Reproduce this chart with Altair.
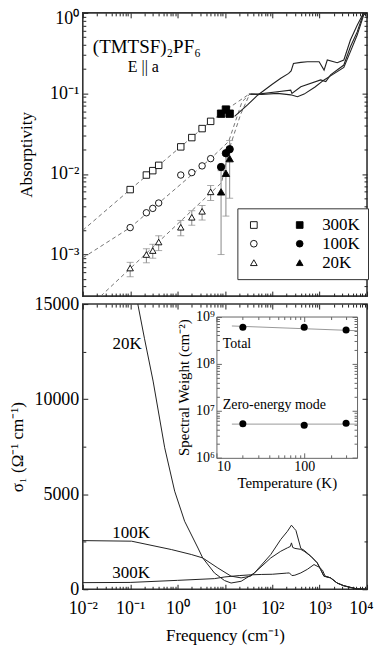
import altair as alt
import pandas as pd

FONT = "Liberation Serif"
INK = "#222222"

# ---------------- top panel: absorptivity ----------------
freq_open = [0.1, 0.22, 0.3, 0.4, 1.17, 2.0, 3.3, 5.0]
abs300_open = [0.0064, 0.0097, 0.011, 0.0128, 0.0217, 0.0283, 0.0366, 0.045]
abs100_open = [0.00216, 0.0033, 0.00374, 0.00436, 0.0097, 0.0104, 0.0126, 0.0155]
abs20_open = [0.00068, 0.0010, 0.00112, 0.00143, 0.00218, 0.0029, 0.00344, 0.0060]
abs20_open_lo = [0.00053, 0.00079, 0.0009, 0.00112, 0.00171, 0.00231, 0.00268, 0.0047]
abs20_open_hi = [0.0008, 0.00118, 0.00134, 0.00171, 0.00265, 0.0035, 0.00406, 0.0072]

freq_filled = [8.3, 10.5, 12.6]
abs300_filled = [0.056, 0.063, 0.056]
abs100_filled = [0.0122, 0.0181, 0.0203]
abs20_filled = [0.006, 0.0102, 0.0155]
abs20_filled_lo = [0.001, 0.003, 0.005]
abs20_filled_hi = [0.011, 0.017, 0.026]

dash300_f = [0.01, 0.1, 5.0, 14.0, 30.0]
dash300_a = [0.0020, 0.0064, 0.045, 0.07, 0.095]
dash100_f = [0.01, 0.1, 5.0, 12.0, 23.0, 32.0]
dash100_a = [0.00091, 0.00216, 0.0155, 0.0253, 0.079, 0.095]
dash20_f = [0.024, 8.5, 12.5, 21.5, 32.0]
dash20_a = [0.000305, 0.0078, 0.021, 0.055, 0.093]

solidA_f = [16, 30, 49, 100, 151, 222, 250, 280, 400, 550, 975, 1240, 1450, 2350, 3240, 4460, 6200, 8500]
solidA_a = [0.052, 0.072, 0.095, 0.13, 0.154, 0.177, 0.19, 0.235, 0.243, 0.247, 0.247, 0.195, 0.26, 0.24, 0.26, 0.46, 0.70, 1.0]
solidB_f = [32, 50, 129, 245, 260, 400, 1050, 1350, 1700, 3240, 4460, 6200, 8500]
solidB_a = [0.098, 0.098, 0.105, 0.11, 0.1, 0.121, 0.147, 0.14, 0.17, 0.225, 0.38, 0.58, 1.0]
solidC_f = [35, 60, 129, 245, 340, 470, 800, 1240, 1700, 3240, 4460, 6200, 8500, 10000]
solidC_a = [0.098, 0.097, 0.1, 0.096, 0.091, 0.098, 0.12, 0.147, 0.165, 0.21, 0.33, 0.53, 0.94, 1.0]

legend_keys = ["o300K", "f300K", "o100K", "f100K", "o20K", "f20K"]
legend_shapes = ["square", "square", "circle", "circle", "triangle-up", "triangle-up"]
legend_fills = ["white", "black", "white", "black", "white", "black"]
legend_strokes = ["black"] * 6

# ---------------- bottom panel: conductivity ----------------
sig20_f = [0.145, 0.2, 0.305, 0.536, 0.87, 1.41, 2.7, 3.4, 6.0, 9.8, 13.5, 22, 42, 93, 151, 209, 254, 290, 316,
           400, 470, 650, 890, 1050, 1230, 1700, 2340, 3200, 4460, 6200, 10000]
sig20_s = [15000, 13200, 10950, 7440, 5160, 3580, 2170, 1650, 860, 460, 330, 420, 860, 1830, 2620, 3050, 3370, 3200, 3090,
           2150, 2050, 1740, 1390, 1040, 690, 600, 330, 190, 100, 20, 0]
sig100_f = [0.01, 0.107, 0.74, 1.95, 3.4, 7.1, 13.5, 22, 35, 42, 93, 151, 209, 240, 254, 270, 300, 400, 470, 650,
            890, 1050, 1230, 1700, 2340, 3200, 4460, 6200, 10000]
sig100_s = [2560, 2530, 2090, 1830, 1650, 1120, 690, 600, 690, 860, 1650, 2000, 2180, 2250, 2440, 2200, 2150, 2100, 2000, 1740,
            1390, 1040, 690, 600, 330, 190, 100, 20, 0]
sig300_f = [0.01, 0.1, 1, 6, 10, 20, 35, 60, 100, 200, 230, 260, 300, 400, 550, 760, 1000, 1150, 1300, 1700, 2340,
            3200, 4460, 6200, 10000]
sig300_s = [350, 360, 470, 560, 650, 720, 760, 780, 790, 850, 860, 720, 740, 860, 1050, 1300, 1150, 1000, 700, 600, 330,
            190, 100, 20, 0]

curve_label_f = [0.086, 0.105, 0.105]
curve_label_s = [12890, 2945, 842]
curve_label_t = ["20K", "100K", "300K"]

# ---------------- inset: spectral weight ----------------
temps = [20, 100, 300]
sw_total = [5.9e8, 5.9e8, 5.2e8]
sw_zero = [5.3e6, 4.9e6, 5.4e6]
fit_T = [15, 400]
fit_total = [6.3e8, 5.0e8]
fit_zero = [5.2e6, 5.2e6]

# ---------------- frames / sizes ----------------
W = 285
HT = 284
HB = 286
INSET = (134, 275, 12.5, 154.2)  # x0, x1, y0, y1 inside bottom view

dec_maj = [0.01, 0.1, 1, 10, 100, 1000, 10000]
dec_min = [m * d for d in [0.01, 0.1, 1, 10, 100, 1000] for m in range(2, 10)]
abs_maj = [1e-3, 1e-2, 1e-1, 1]
abs_min = [m * d for d in [1e-4, 1e-3, 1e-2, 1e-1] for m in range(2, 10) if m * d >= 3.05e-4]
sig_maj = [0, 5000, 10000, 15000]
sig_min = [2500, 7500, 12500]
T_maj = [10, 100]
T_min = [20, 30, 40, 50, 60, 70, 80, 90, 200, 300]
sw_maj = [1e6, 1e7, 1e8, 1e9]
sw_min = [m * d for d in [1e6, 1e7, 1e8] for m in range(2, 10)]

SUP = "['10⁻⁴','10⁻³','10⁻²','10⁻¹','10⁰','10¹','10²','10³','10⁴'][round(log(datum.value)/LN10)+4]"
SUP_IN = "['10⁶','10⁷','10⁸','10⁹'][round(log(datum.value)/LN10)-6]"

XS = alt.Scale(type="log", domain=[0.01, 10000], nice=False)
YT = alt.Scale(type="log", domain=[3.05e-4, 1], nice=False)
YB = alt.Scale(type="linear", domain=[0, 15000], nice=False, zero=False)
XI = alt.Scale(type="log", domain=[10, 400], nice=False, range=[INSET[0], INSET[1]])
YI = alt.Scale(type="log", domain=[1e6, 1e9], nice=False, range=[INSET[3], INSET[2]])

# ---------------- data frames ----------------
rows = []
for k, vals in [("o300K", abs300_open), ("o100K", abs100_open), ("o20K", abs20_open)]:
    rows += [{"f": f, "a": a, "key": k} for f, a in zip(freq_open, vals)]
open_df = pd.DataFrame(rows)
rows = []
for k, vals in [("f300K", abs300_filled), ("f100K", abs100_filled), ("f20K", abs20_filled)]:
    rows += [{"f": f, "a": a, "key": k} for f, a in zip(freq_filled, vals)]
filled_df = pd.DataFrame(rows)
err_df = pd.DataFrame({
    "f": freq_open + freq_filled,
    "lo": abs20_open_lo + abs20_filled_lo,
    "hi": abs20_open_hi + abs20_filled_hi,
})
cap_df = pd.DataFrame({"f": err_df["f"].tolist() * 2, "a": err_df["lo"].tolist() + err_df["hi"].tolist()})
rows = []
for s, fs, as_ in [("300K", dash300_f, dash300_a), ("100K", dash100_f, dash100_a), ("20K", dash20_f, dash20_a)]:
    rows += [{"f": f, "a": a, "s": s} for f, a in zip(fs, as_)]
dash_df = pd.DataFrame(rows)
rows = []
for s, fs, as_ in [("A", solidA_f, solidA_a), ("B", solidB_f, solidB_a), ("C", solidC_f, solidC_a)]:
    rows += [{"f": f, "a": a, "s": s} for f, a in zip(fs, as_)]
solid_df = pd.DataFrame(rows)
title_df = pd.DataFrame({"f": [0.0163], "a": [0.38], "t": ["(TMTSF)₂PF₆"]})
eparr_df = pd.DataFrame({"f": [0.089], "a": [0.215], "t": ["E || a"]})

rows = []
for s, fs, ss in [("20K", sig20_f, sig20_s), ("100K", sig100_f, sig100_s), ("300K", sig300_f, sig300_s)]:
    rows += [{"f": f, "sig": v, "s": s} for f, v in zip(fs, ss)]
sig_df = pd.DataFrame(rows)
lab_df = pd.DataFrame({"f": curve_label_f, "sig": curve_label_s, "t": curve_label_t})

ins_pts = pd.DataFrame({"T": temps * 2, "w": sw_total + sw_zero, "s": ["total"] * 3 + ["zero"] * 3})
ins_fit = pd.DataFrame({"T": fit_T * 2, "w": fit_total + fit_zero, "s": ["total"] * 2 + ["zero"] * 2})
ins_txt = pd.DataFrame({"T": [11.8, 11.8], "w": [2.55e8, 1.3e7], "t": ["Total", "Zero-energy mode"]})


def tick_axis(orient, offset, values, size, domain=False, color=INK):
    return alt.Axis(orient=orient, offset=offset, values=values, tickSize=size, ticks=True,
                    labels=False, domain=domain, domainColor=color, domainWidth=1,
                    grid=False, title=None, tickColor=color, tickWidth=1, minExtent=0, maxExtent=0)


def tick_layers(df, xf, yf, xs, ys, xmaj, xmin, ymaj, ymin, edges, H, domain=False, color=INK):
    x0, x1, y0, y1 = edges
    out = []
    sides = [("top", -y1, "right", x0 - W), ("bottom", y0 - H, "left", -x1)]
    for xo, xoff, yo, yoff in sides:
        for xv, yv, size, dom in [(xmaj, ymaj, 5, domain), (xmin, ymin, 3, False)]:
            out.append(
                alt.Chart(df).mark_point(opacity=0).encode(
                    x=alt.X(f"{xf}:Q", scale=xs, axis=tick_axis(xo, xoff, xv, size, dom, color)),
                    y=alt.Y(f"{yf}:Q", scale=ys, axis=tick_axis(yo, yoff, yv, size, dom, color)),
                )
            )
    return out


def X(field, scale, axis=None):
    return alt.X(f"{field}:Q", scale=scale, axis=axis)


def Y(field, scale, axis=None):
    return alt.Y(f"{field}:Q", scale=scale, axis=axis)


# ---------------- top panel ----------------
shape_scale = alt.Scale(domain=legend_keys, range=legend_shapes)
fill_scale = alt.Scale(domain=legend_keys, range=legend_fills)
stroke_scale = alt.Scale(domain=legend_keys, range=legend_strokes)
legend = alt.Legend(orient="none", legendX=155, legendY=196, columns=2, direction="horizontal",
                    title=None,
                    labelExpr="indexof(datum.label,'f')==0 ? substring(datum.label,1) : ''",
                    strokeColor="#333333", padding=8, symbolStrokeWidth=0.9,
                    symbolSize=45, labelFont=FONT, labelFontSize=17, labelColor="black", rowPadding=1,
                    columnPadding=15, labelOffset=14, fillColor="white")


def point_enc(ch):
    return ch.encode(
        x=X("f", XS), y=Y("a", YT),
        shape=alt.Shape("key:N", scale=shape_scale, legend=legend),
        fill=alt.Fill("key:N", scale=fill_scale, legend=legend),
        stroke=alt.Stroke("key:N", scale=stroke_scale, legend=legend),
    )


dashed = alt.Chart(dash_df).mark_line(strokeDash=[4, 3], color="#666666", strokeWidth=0.9).encode(
    x=X("f", XS), y=Y("a", YT), detail="s:N")
solid = alt.Chart(solid_df).mark_line(color=INK, strokeWidth=1.1, clip=True).encode(
    x=X("f", XS), y=Y("a", YT), detail="s:N")
errbar = alt.Chart(err_df).mark_rule(color="#888888", strokeWidth=1).encode(
    x=X("f", XS), y=Y("lo", YT), y2="hi:Q")
caps = alt.Chart(cap_df).mark_tick(orient="horizontal", size=7, thickness=1, color="#888888").encode(
    x=X("f", XS), y=Y("a", YT))
opens = point_enc(alt.Chart(open_df).mark_point(filled=True, size=42, strokeWidth=0.9, opacity=1))
filleds = point_enc(alt.Chart(filled_df).mark_point(filled=True, size=55, strokeWidth=0.9, opacity=1))
title_txt = alt.Chart(title_df).mark_text(font=FONT, fontSize=19, align="left", baseline="middle", color="black").encode(
    x=X("f", XS), y=Y("a", YT), text="t:N")
epar_txt = alt.Chart(eparr_df).mark_text(font=FONT, fontSize=16, align="left", baseline="middle", color="black").encode(
    x=X("f", XS), y=Y("a", YT), text="t:N")
top_axis = alt.Chart(solid_df).mark_point(opacity=0).encode(
    x=X("f", XS),
    y=Y("a", YT, alt.Axis(orient="left", values=abs_maj, labelExpr=SUP, ticks=False, tickSize=0, domain=False,
                          grid=False, labelFont=FONT, labelFontSize=18, labelColor="black", labelPadding=4,
                          labelFlush=True, labelFlushOffset=3,
                          title="Absorptivity", titleFont=FONT, titleFontSize=17, titleFontWeight="normal",
                          titleColor="black", titlePadding=14)))

top = alt.layer(
    dashed, solid, errbar, caps, opens, filleds, title_txt, epar_txt, top_axis,
    *tick_layers(solid_df, "f", "a", XS, YT, dec_maj, dec_min, abs_maj, abs_min, (0, W, 0, HT), HT),
).resolve_scale(x="independent", y="independent").properties(width=W, height=HT)

# ---------------- bottom panel ----------------
last_label = "datum.value >= 10000"
curves = alt.Chart(sig_df).mark_line(color=INK, strokeWidth=1).encode(
    x=X("f", XS, alt.Axis(orient="bottom", values=dec_maj, labelExpr=SUP, ticks=False, tickSize=0, domain=False,
                          grid=False, labelFlush=False,
                          labelAlign={"condition": {"test": last_label, "value": "right"}, "value": "center"},
                          labelOffset={"condition": {"test": last_label, "value": 6}, "value": 0},
                          labelFont=FONT, labelFontSize=18, labelColor="black",
                          labelPadding=10, title="Frequency (cm⁻¹)", titleFont=FONT, titleFontSize=17,
                          titleFontWeight="normal", titleColor="black", titlePadding=10)),
    y=Y("sig", YB, alt.Axis(orient="left", values=sig_maj, ticks=False, tickSize=0, domain=False, grid=False,
                            format="d", labelFont=FONT, labelFontSize=18, labelColor="black", labelPadding=4,
                            title="σ₁ (Ω⁻¹ cm⁻¹)", titleFont=FONT, titleFontSize=17, titleFontWeight="normal",
                            titleColor="black", titlePadding=7)),
    detail="s:N")
curve_labels = alt.Chart(lab_df).mark_text(font=FONT, fontSize=17, align="center", baseline="middle",
                                            color="black").encode(x=X("f", XS), y=Y("sig", YB), text="t:N")

ins_axis = alt.Chart(ins_pts).mark_point(opacity=0).encode(
    x=X("T", XI, alt.Axis(orient="bottom", offset=INSET[3] - HB, values=T_maj, format="d", ticks=False, tickSize=0,
                          domain=False, grid=False, labelFlush=True, labelFont=FONT, labelFontSize=14,
                          labelColor="black", labelPadding=2, title="Temperature (K)", titleFont=FONT,
                          titleFontSize=15, titleFontWeight="normal", titleColor="black", titlePadding=2)),
    y=Y("w", YI, alt.Axis(orient="left", offset=-INSET[0], values=sw_maj, labelExpr=SUP_IN, ticks=False,
                          tickSize=0, domain=False, grid=False, labelFont=FONT, labelFontSize=14,
                          labelColor="black", labelPadding=2, title="Spectral Weight (cm⁻²)", titleFont=FONT,
                          titleFontSize=15, titleFontWeight="normal", titleColor="black", titlePadding=4)))
ins_lines = alt.Chart(ins_fit).mark_line(color="#999999", strokeWidth=1).encode(
    x=X("T", XI), y=Y("w", YI), detail="s:N")
ins_dots = alt.Chart(ins_pts).mark_circle(size=50, color="black", opacity=1).encode(x=X("T", XI), y=Y("w", YI))
ins_text = alt.Chart(ins_txt).mark_text(font=FONT, fontSize=14, align="left", baseline="middle",
                                         color="black").encode(x=X("T", XI), y=Y("w", YI), text="t:N")

bottom = alt.layer(
    curves, curve_labels,
    *tick_layers(sig_df, "f", "sig", XS, YB, dec_maj, dec_min, sig_maj, sig_min, (0, W, 0, HB), HB),
    ins_lines, ins_dots, ins_text, ins_axis,
    *tick_layers(ins_pts, "T", "w", XI, YI, T_maj, T_min, sw_maj, sw_min, INSET, HB, domain=True,
                 color="#666666"),
).resolve_scale(x="independent", y="independent").properties(width=W, height=HB)

chart = alt.vconcat(top, bottom, spacing=-5).properties(
    padding={"left": 0, "top": 0, "right": 0, "bottom": 0}
).configure_view(stroke="#333333", strokeWidth=1.6)

chart.save("out.html", embed_options={"renderer": "svg", "actions": False})
